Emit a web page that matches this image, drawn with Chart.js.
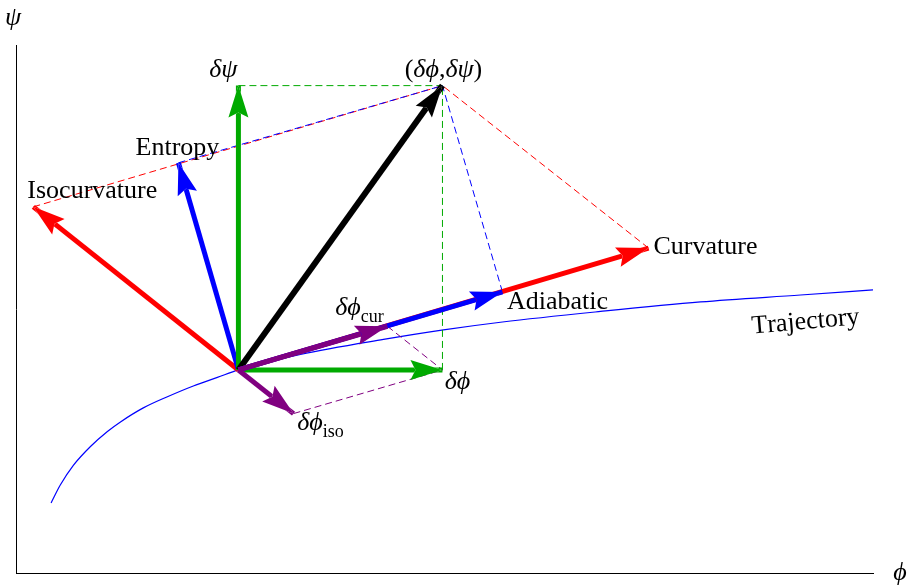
<!DOCTYPE html>
<html>
<head>
<meta charset="utf-8">
<script src="https://cdn.jsdelivr.net/npm/chart.js@4.4.1/dist/chart.umd.min.js"></script>
<style>
    body { margin: 0; background: #fff; }
</style>
</head>
<body>
<canvas id="chart" width="909" height="585"></canvas>
<script>
/* axis ranges */
const xRange = [-1.09, 3.11]
const yRange = [-1.0, 1.6]

/* field vector (δφ, δψ) and its components */
const origin = [0, 0]
const fieldPoint = [1.0, 1.4]
const dphiTip = [1.0, 0]
const dpsiTip = [0, 1.4]
const curvatureTip = [2.01, 0.6]
const isocurvatureTip = [-1.005, 0.803]
const adiabaticTip = [1.294, 0.384]
const entropyTip = [-0.294, 1.02]
const dphiCurTip = [0.73, 0.215]
const dphiIsoTip = [0.27, -0.215]

/* background trajectory */
const trajX = [-0.918, -0.873, -0.809, -0.725, -0.642, -0.578, -0.466, -0.348, -0.221, -0.103, 0, 0.304, 0.711, 1.005, 1.294, 1.775, 2.265, 2.755, 3.11]
const trajY = [-0.655, -0.567, -0.470, -0.377, -0.303, -0.256, -0.187, -0.132, -0.079, -0.037, 0, 0.076, 0.150, 0.197, 0.236, 0.288, 0.335, 0.369, 0.394]

/* text labels (text, position, rotation in degrees) */
const labelText = ['δψ', '(δϕ,δψ)', 'Entropy', 'Isocurvature', 'Curvature', 'Adiabatic', 'Trajectory', 'δϕ', 'δϕ_cur', 'δϕ_iso']
const labelX = [-0.074, 1.005, -0.299, -0.716, 2.289, 1.564, 2.779, 1.074, 0.593, 0.402]
const labelY = [1.478, 1.478, 1.094, 0.882, 0.606, 0.335, 0.236, -0.059, 0.305, -0.261]
const labelAngle = [0, 0, 0, 0, 0, 0, -5, 0, 0, 0]

const axisNames = ['ϕ', 'ψ']

const RED = '#ff0000'
const BLUE = '#0000ff'
const GREEN = '#00aa00'
const PURPLE = '#800080'
const BLACK = '#000000'
const FONT = '"Liberation Serif", "DejaVu Serif", serif'

function segment(from, to, color, width, dash, arrow) {
    return {
        data: [{x: from[0], y: from[1]}, {x: to[0], y: to[1]}],
        showLine: true,
        borderColor: color,
        backgroundColor: color,
        borderWidth: width,
        borderDash: dash || [],
        borderCapStyle: 'butt',
        pointRadius: 0,
        arrow: !!arrow
    }
}

// bottom to top drawing order
const dash = [7, 4]
const layers = []

layers.push({
    data: trajX.map(function (x, i) { return {x: x, y: trajY[i]} }),
    showLine: true,
    borderColor: BLUE,
    borderWidth: 1.2,
    pointRadius: 0,
    cubicInterpolationMode: 'monotone'
})

// projection lines
layers.push(segment(dpsiTip, fieldPoint, GREEN, 1, dash))
layers.push(segment(dphiTip, fieldPoint, GREEN, 1, dash))
layers.push(segment(isocurvatureTip, fieldPoint, RED, 1, dash))
layers.push(segment(curvatureTip, fieldPoint, RED, 1, dash))
layers.push(segment(entropyTip, fieldPoint, BLUE, 1, dash))
layers.push(segment(adiabaticTip, fieldPoint, BLUE, 1, dash))
layers.push(segment(dphiCurTip, dphiTip, PURPLE, 1, dash))
layers.push(segment(dphiIsoTip, dphiTip, PURPLE, 1, dash))

// vectors
layers.push(segment(origin, isocurvatureTip, RED, 5, null, true))
layers.push(segment(origin, entropyTip, BLUE, 5, null, true))
layers.push(segment(origin, dpsiTip, GREEN, 5, null, true))
layers.push(segment(origin, dphiTip, GREEN, 5, null, true))
layers.push(segment(origin, fieldPoint, BLACK, 6, null, true))
layers.push(segment(origin, curvatureTip, RED, 5, null, true))
layers.push(segment(origin, adiabaticTip, BLUE, 5, null, true))
layers.push(segment(origin, dphiCurTip, PURPLE, 5, null, true))
layers.push(segment(origin, dphiIsoTip, PURPLE, 5, null, true))

// chart.js draws higher order first
layers.forEach(function (ds, i) { ds.order = layers.length - i })

function headPoints(chart, ds) {
    const xs = chart.scales.x
    const ys = chart.scales.y
    const p0 = ds.data[0]
    const p1 = ds.data[ds.data.length - 1]
    const x0 = xs.getPixelForValue(p0.x), y0 = ys.getPixelForValue(p0.y)
    const x1 = xs.getPixelForValue(p1.x), y1 = ys.getPixelForValue(p1.y)
    const len = Math.hypot(x1 - x0, y1 - y0)
    const ux = (x1 - x0) / len, uy = (y1 - y0) / len
    const L = 32, W = 10, N = 27
    return [
        [x1, y1],
        [x1 - ux * L - uy * W, y1 - uy * L + ux * W],
        [x1 - ux * N, y1 - uy * N],
        [x1 - ux * L + uy * W, y1 - uy * L - ux * W]
    ]
}

function tracePath(ctx, pts) {
    ctx.moveTo(pts[0][0], pts[0][1])
    for (let i = 1; i < pts.length; i++) ctx.lineTo(pts[i][0], pts[i][1])
    ctx.closePath()
}

const arrowPlugin = {
    id: 'arrowHeads',
    beforeDatasetDraw: function (chart, args) {
        const ds = chart.data.datasets[args.index]
        if (!ds.arrow) return
        const ctx = chart.ctx
        // keep the shaft out from under the head
        ctx.save()
        ctx.beginPath()
        ctx.rect(0, 0, chart.width, chart.height)
        tracePath(ctx, headPoints(chart, ds))
        ctx.clip('evenodd')
    },
    afterDatasetDraw: function (chart, args) {
        const ds = chart.data.datasets[args.index]
        if (!ds.arrow) return
        const ctx = chart.ctx
        ctx.restore()
        ctx.save()
        ctx.beginPath()
        tracePath(ctx, headPoints(chart, ds))
        ctx.fillStyle = ds.borderColor
        ctx.fill()
        ctx.restore()
    }
}

function drawLabel(ctx, text, cx, cy, angle) {
    const parts = text.split('_')
    const runs = []
    for (const ch of parts[0]) {
        runs.push({t: ch, font: (/[\u0370-\u03ff]/.test(ch) ? 'italic ' : '') + '26px ' + FONT, dy: 0})
    }
    if (parts[1]) runs.push({t: parts[1], font: '18px ' + FONT, dy: 9})
    let total = 0
    runs.forEach(function (r) {
        ctx.font = r.font
        r.w = ctx.measureText(r.t).width
        total += r.w
    })
    ctx.save()
    ctx.translate(cx, cy)
    ctx.rotate(angle * Math.PI / 180)
    ctx.fillStyle = '#000'
    ctx.textBaseline = 'middle'
    ctx.textAlign = 'left'
    let x = -total / 2
    runs.forEach(function (r) {
        ctx.font = r.font
        ctx.fillText(r.t, x, r.dy)
        x += r.w
    })
    ctx.restore()
}

const labelPlugin = {
    id: 'labels',
    afterDraw: function (chart) {
        const ctx = chart.ctx
        const xs = chart.scales.x
        const ys = chart.scales.y
        for (let i = 0; i < labelText.length; i++) {
            drawLabel(ctx, labelText[i], xs.getPixelForValue(labelX[i]), ys.getPixelForValue(labelY[i]), labelAngle[i])
        }
        // axis names at the ends of the axes
        const area = chart.chartArea
        drawLabel(ctx, axisNames[0], area.right + 27, area.bottom, 0)
        drawLabel(ctx, axisNames[1], area.left - 3, area.top - 27, 0)
    }
}

new Chart(document.getElementById('chart').getContext('2d'), {
    type: 'scatter',
    data: { datasets: layers },
    options: {
        responsive: false,
        animation: false,
        events: [],
        layout: { padding: { left: 16, right: 36, top: 45, bottom: 12 } },
        plugins: {
            legend: { display: false },
            tooltip: { enabled: false }
        },
        scales: {
            x: {
                type: 'linear', min: xRange[0], max: xRange[1],
                grid: { display: false, drawTicks: false },
                ticks: { display: false },
                border: { display: true, color: '#000', width: 1 }
            },
            y: {
                type: 'linear', min: yRange[0], max: yRange[1],
                grid: { display: false, drawTicks: false },
                ticks: { display: false },
                border: { display: true, color: '#000', width: 1 }
            }
        }
    },
    plugins: [arrowPlugin, labelPlugin]
})
</script>
</body>
</html>
